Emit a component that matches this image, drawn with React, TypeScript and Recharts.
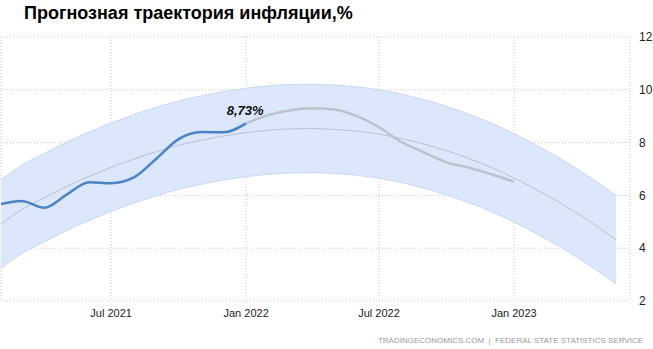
import { Area, CartesianGrid, ComposedChart, Line, XAxis, YAxis } from "recharts";

const bandDates = [
  "2021-02-01", "2021-03-01", "2021-04-01", "2021-05-01", "2021-06-01", "2021-07-01",
  "2021-08-01", "2021-09-01", "2021-10-01", "2021-11-01", "2021-12-01", "2022-01-01",
  "2022-02-01", "2022-03-01", "2022-04-01", "2022-05-01", "2022-06-01", "2022-07-01",
  "2022-08-01", "2022-09-01", "2022-10-01", "2022-11-01", "2022-12-01", "2023-01-01",
  "2023-02-01", "2023-03-01", "2023-04-01", "2023-05-01", "2023-05-20",
];
const bandLow = [
  3.24, 3.79, 4.24, 4.66, 5.05, 5.39, 5.71, 5.99, 6.23, 6.42, 6.58, 6.71,
  6.8, 6.85, 6.86, 6.83, 6.76, 6.65, 6.48, 6.27, 6.02, 5.72, 5.39, 4.99,
  4.54, 4.11, 3.58, 3.02, 2.65,
];
const bandHigh = [
  6.59, 7.14, 7.59, 8.01, 8.4, 8.74, 9.06, 9.34, 9.58, 9.77, 9.93, 10.06,
  10.15, 10.2, 10.21, 10.18, 10.11, 10.0, 9.83, 9.62, 9.37, 9.07, 8.74, 8.34,
  7.89, 7.46, 6.93, 6.37, 6.0,
];
const bandMid = [
  4.91, 5.46, 5.91, 6.33, 6.72, 7.06, 7.38, 7.66, 7.9, 8.09, 8.25, 8.38,
  8.47, 8.52, 8.53, 8.5, 8.43, 8.32, 8.15, 7.94, 7.69, 7.39, 7.06, 6.66,
  6.21, 5.78, 5.25, 4.69, 4.32,
];

const actualDates = [
  "2021-02-01", "2021-03-01", "2021-04-01", "2021-05-01", "2021-06-01", "2021-07-01",
  "2021-08-01", "2021-09-01", "2021-10-01", "2021-11-01", "2021-12-01", "2022-01-01",
];
const actualValues = [5.67, 5.79, 5.53, 6.02, 6.5, 6.46, 6.68, 7.4, 8.13, 8.4, 8.39, 8.73];

const forecastDates = [
  "2022-01-01", "2022-02-01", "2022-03-01", "2022-04-01", "2022-05-01", "2022-06-01",
  "2022-07-01", "2022-08-01", "2022-09-01", "2022-10-01", "2022-11-01", "2022-12-01",
  "2023-01-01",
];
const forecastValues = [8.73, 9.05, 9.22, 9.3, 9.25, 9.0, 8.58, 8.02, 7.62, 7.25, 7.05, 6.8, 6.52];

const xTickDates = ["2021-07-01", "2022-01-01", "2022-07-01", "2023-01-01"];
const xTickLabels = ["Jul 2021", "Jan 2022", "Jul 2022", "Jan 2023"];
const yTicks = [2, 4, 6, 8, 10, 12];

const ts = (d: string) => Date.parse(d + "T00:00:00Z");

type Row = { t: number; range?: [number, number]; mid?: number; actual?: number; forecast?: number };

function buildData(): Row[] {
  const rows = new Map<number, Row>();
  const get = (d: string) => {
    const t = ts(d);
    if (!rows.has(t)) rows.set(t, { t });
    return rows.get(t)!;
  };
  bandDates.forEach((d, i) => {
    const r = get(d);
    r.range = [bandLow[i], bandHigh[i]];
    r.mid = bandMid[i];
  });
  actualDates.forEach((d, i) => (get(d).actual = actualValues[i]));
  forecastDates.forEach((d, i) => (get(d).forecast = forecastValues[i]));
  return [...rows.values()].sort((a, b) => a.t - b.t);
}

const data = buildData();
const xTicks = xTickDates.map(ts);
const font = "'Liberation Sans', Arial, sans-serif";

function LastLabel(props: any) {
  const { x, y, index, value } = props;
  if (index !== actualValues.length - 1) return null;
  return (
    <text x={x - 1} y={y - 8} textAnchor="middle" fontSize={13} fontWeight="bold" fontStyle="italic" fill="#111" fontFamily={font}>
      {String(value).replace(".", ",") + "%"}
    </text>
  );
}

export default function App() {
  return (
    <div style={{ position: "absolute", left: 0, top: 0, width: 653, height: 349, fontFamily: font, background: "#fff" }}>
      <div style={{ position: "absolute", left: 24, top: 3, fontSize: 18, fontWeight: "bold", color: "#000", whiteSpace: "nowrap" }}>
        Прогнозная траектория инфляции,%
      </div>
      <div style={{ position: "absolute", right: 10, top: 336, fontSize: 8, lineHeight: "10px", color: "#999", whiteSpace: "nowrap" }}>
        TRADINGECONOMICS.COM &nbsp;|&nbsp; FEDERAL STATE STATISTICS SERVICE
      </div>
      <ComposedChart
        width={653}
        height={349}
        data={data}
        margin={{ top: 37, right: 0, bottom: 28, left: 1 }}
        style={{ position: "absolute", left: 0, top: 0, overflow: "visible" }}
      >
        <CartesianGrid stroke="#c8c8c8" strokeDasharray="1 2" />
        <XAxis
          dataKey="t"
          type="number"
          scale="time"
          domain={[ts("2021-02-01"), ts("2023-06-08")]}
          allowDataOverflow
          ticks={xTicks}
          tickFormatter={(v: number) => xTickLabels[xTicks.indexOf(v)]}
          axisLine={false}
          tickLine={false}
          height={20}
          tick={{ fontSize: 11, fill: "#222", fontFamily: font }}
        />
        <YAxis
          orientation="right"
          domain={[2, 12]}
          ticks={yTicks}
          width={23}
          axisLine={false}
          tickLine={false}
          tickMargin={3}
          tick={{ fontSize: 12, fill: "#222", fontFamily: font }}
        />
        <Area dataKey="range" type="monotone" fill="#dce7fb" fillOpacity={1} stroke="#c6d8f6" strokeWidth={1} isAnimationActive={false} connectNulls />
        <Line dataKey="mid" type="monotone" stroke="#b8c0de" strokeWidth={1} dot={false} isAnimationActive={false} connectNulls />
        <Line dataKey="forecast" type="monotone" stroke="#bcc3cd" strokeWidth={2.5} dot={false} isAnimationActive={false} />
        <Line dataKey="actual" type="monotone" stroke="#4a84c4" strokeWidth={2.5} dot={false} isAnimationActive={false} label={<LastLabel />} />
      </ComposedChart>
    </div>
  );
}
